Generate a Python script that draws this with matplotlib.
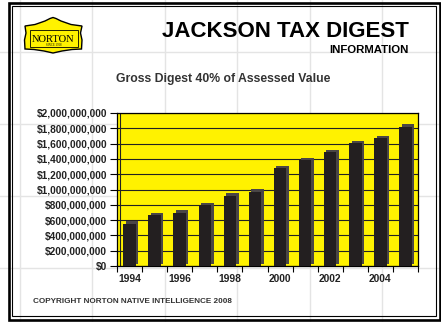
import matplotlib
matplotlib.use("Agg")
import matplotlib.pyplot as plt
from matplotlib.patches import Polygon, Rectangle
from matplotlib.ticker import FuncFormatter, MultipleLocator, FixedLocator
from matplotlib.transforms import offset_copy

plt.rcParams['font.family'] = ['Liberation Sans', 'DejaVu Sans']

years = [1994, 1995, 1996, 1997, 1998, 1999, 2000, 2001, 2002, 2003, 2004, 2005]
digest = [555e6, 665e6, 698e6, 795e6, 918e6, 970e6, 1278e6, 1385e6, 1490e6,
          1602e6, 1672e6, 1822e6]
year_labels = ['1994', '1996', '1998', '2000', '2002', '2004']

title = 'JACKSON TAX DIGEST'
subtitle = 'INFORMATION'
chart_title = 'Gross Digest 40% of Assessed Value'
footer = 'COPYRIGHT NORTON NATIVE INTELLIGENCE 2008'

W, H = 441, 322
fig = plt.figure(figsize=(W / 100, H / 100), dpi=100)
fig.patch.set_facecolor('white')

# page layer in pixel coordinates (sheet grid, frame, logo, headings)
page = fig.add_axes([0, 0, 1, 1], zorder=0)
page.set_xlim(0, W)
page.set_ylim(H, 0)
page.axis('off')

for gx in [20, 92.3, 165, 237.3, 310, 382.3]:
    page.plot([gx, gx], [0, H], color='#e4e4e4', lw=1.0, zorder=0)
for gy in [52, 124, 196, 268]:
    page.plot([0, W], [gy, gy], color='#e4e4e4', lw=1.0, zorder=0)

page.add_patch(Rectangle((12.2, 5.7), 423.3, 310.6, fill=False,
                         edgecolor='black', lw=0.8, zorder=3))
page.add_patch(Rectangle((9, 3), 430.5, 316.5, fill=False,
                         edgecolor='black', lw=1.9, zorder=3))

# Norton badge
badge = [(25, 26), (35, 24.5), (45, 21), (50, 18.5), (53, 17.5), (56, 18.5),
         (61, 21), (71, 24.5), (82, 26), (80.5, 33), (82, 40), (81.5, 49),
         (72, 49.5), (62, 51), (53, 53), (44, 51), (34, 49.5), (25, 49),
         (24.5, 40), (26, 33)]
page.add_patch(Polygon(badge, closed=True, facecolor='#fff200',
                       edgecolor='black', lw=1.0, zorder=4))
page.add_patch(Rectangle((29.5, 29.5), 48, 17.5, fill=False,
                         edgecolor='black', lw=0.6, zorder=5))
page.text(53.5, 41.5, 'NORTON', family=['Liberation Serif', 'DejaVu Serif'],
          fontsize=7.6, ha='center', va='baseline', color='black', zorder=6)
page.text(53.5, 45.6, 'SINCE 1928', family=['Liberation Serif', 'DejaVu Serif'],
          fontsize=2.2, ha='center', va='baseline', color='black', zorder=6)

page.text(408.5, 37.3, title, fontsize=16, fontweight='bold',
          ha='right', va='baseline', color='black', zorder=6)
page.text(409, 52.7, subtitle, fontsize=8.2, fontweight='bold',
          ha='right', va='baseline', color='black', zorder=6)
page.text(223.5, 81.7, chart_title, fontsize=8.8, fontweight='bold',
          ha='center', va='baseline', color='#333333', zorder=6)
page.text(32.7, 302.7, footer, fontsize=5.9, fontweight='bold',
          ha='left', va='baseline', color='#333333', zorder=6)

# chart
left, right, top, bottom = 117, 418, 113, 266
ax = fig.add_axes([left / W, 1 - bottom / H, (right - left) / W, (bottom - top) / H],
                  zorder=2)
ax.set_facecolor('#fff200')
x = list(range(len(years)))
ax.set_xlim(-0.5, len(years) - 0.5)
ax.set_ylim(0, 2e9)

ax.yaxis.set_major_locator(MultipleLocator(2e8))
ax.yaxis.set_major_formatter(FuncFormatter(lambda v, p: f'${v:,.0f}'))
ax.grid(axis='y', color='#222222', lw=0.8)
ax.set_axisbelow(True)

# left wall edge
wall = offset_copy(ax.get_xaxis_transform(), fig=fig, x=3, y=0, units='dots')
ax.plot([-0.5, -0.5], [0, 1], transform=wall, color='#222222', lw=0.8, zorder=1)

# depth faces of the columns, then the fronts
depth = offset_copy(ax.transData, fig=fig, x=2.5, y=2.5, units='dots')
ax.bar(x, digest, width=0.5, color='#4a4646', transform=depth, zorder=2)
ax.bar(x, digest, width=0.5, color='#231f20', zorder=3)

for s in ax.spines.values():
    s.set_color('black')
    s.set_linewidth(0.9)

ax.set_xticks([i for i in x if years[i] % 2 == 0])
ax.set_xticklabels(year_labels)
ax.xaxis.set_minor_locator(FixedLocator([i - 0.5 for i in range(len(years) + 1)]))
ax.tick_params(axis='x', which='major', length=0, pad=6)
ax.tick_params(axis='x', which='minor', length=4, width=0.8, color='black')
ax.tick_params(axis='y', length=5, width=0.8, color='black', pad=2)
for lab in ax.get_xticklabels() + ax.get_yticklabels():
    lab.set_fontweight('bold')
    lab.set_color('#222222')
for lab in ax.get_yticklabels():
    lab.set_fontsize(7.3)
for lab in ax.get_xticklabels():
    lab.set_fontsize(7.4)

fig.savefig('out.png', dpi=100, facecolor='white')
